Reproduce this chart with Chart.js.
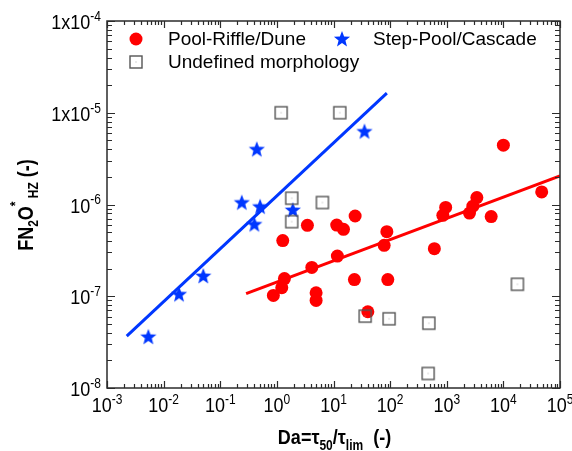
<!DOCTYPE html>
<html>
<head>
<meta charset="utf-8">
<script src="https://cdn.jsdelivr.net/npm/chart.js@4.4.0/dist/chart.umd.min.js"></script>
<style>
  html, body { margin: 0; padding: 0; background: #fff; }
</style>
</head>
<body>
<canvas id="chart" width="572" height="451"></canvas>
<script>
// Pool-Riffle/Dune (red circles)
const poolX = [1.0e4, 4.75e4, 957, 853, 3400, 2890, 2520, 6090, 604, 87.5, 78.4, 24.1, 11.4, 15.0, 11.7,
               3.46, 1.27, 4.14, 1.36, 1.22, 0.867, 4.93, 4.93, 23.4, 91, 40.4];
const poolY = [4.43e-6, 1.37e-6, 9.3e-7, 7.62e-7, 1.19e-6, 9.6e-7, 8.07e-7, 7.38e-7, 3.3e-7, 5.06e-7, 3.59e-7,
               7.49e-7, 5.97e-7, 5.36e-7, 2.74e-7, 5.93e-7, 4.04e-7, 2.06e-7, 1.56e-7, 1.24e-7, 1.02e-7,
               1.09e-7, 9.0e-8, 1.52e-7, 1.52e-7, 6.78e-8];

// Step-Pool/Cascade (blue stars)
const stepX = [5.37e-3, 0.0187, 0.0502, 0.240, 0.400, 0.505, 0.442, 1.91, 35.2];
const stepY = [3.61e-8, 1.05e-7, 1.66e-7, 1.05e-6, 6.08e-7, 9.48e-7, 4.0e-6, 8.7e-7, 6.25e-6];

// Undefined morphology (open squares)
const undefX = [1.19, 12.9, 1.83, 1.83, 6.37, 36.2, 96, 483, 469, 1.77e4];
const undefY = [1.0e-5, 1.0e-5, 1.17e-6, 6.5e-7, 1.05e-6, 6.07e-8, 5.68e-8, 5.08e-8, 1.44e-8, 1.35e-7];

// fitted lines (end points)
const stepFitX = [2.23e-3, 87.5];
const stepFitY = [3.67e-8, 1.64e-5];
const poolFitX = [0.286, 1e5];
const poolFitY = [1.07e-7, 2.05e-6];

// tick labels
const xTickExps = ['-3', '-2', '-1', '0', '1', '2', '3', '4', '5'];
const yTickBases = ['10', '10', '10', '1x10', '1x10'];
const yTickExps = ['-8', '-7', '-6', '-5', '-4'];

const RED = '#ff0000';
const BLUE = '#0037ff';
const AXIS = '#2b2b2b';

function pts(xs, ys) {
    return xs.map((x, i) => ({ x: x, y: ys[i] }));
}

function makeStar(color, R, r) {
    const s = 20;
    const c = document.createElement('canvas');
    c.width = s; c.height = s;
    const g = c.getContext('2d');
    g.fillStyle = color;
    g.beginPath();
    for (let i = 0; i < 10; i++) {
        const a = -Math.PI / 2 + i * Math.PI / 5;
        const rad = i % 2 === 0 ? R : r;
        g.lineTo(s / 2 + rad * Math.cos(a), s / 2 + 0.5 + rad * Math.sin(a));
    }
    g.closePath();
    g.fill();
    return c;
}

function makeSquare(side) {
    const s = 16;
    const c = document.createElement('canvas');
    c.width = s; c.height = s;
    const g = c.getContext('2d');
    g.strokeStyle = '#555';
    g.lineWidth = 1.4;
    g.strokeRect((s - side) / 2, (s - side) / 2, side, side);
    g.fillStyle = '#aaa';
    g.fillRect(s / 2 - 0.5, s / 2 - 0.5, 1, 1);
    return c;
}

const starImg = makeStar(BLUE, 8.5, 3.6);
const squareImg = makeSquare(12);

// rich text: parts = [{t, size, dy}]
function drawParts(ctx, parts, x, y, align, bold, sy) {
    const fam = '"Liberation Sans", Arial, sans-serif';
    let total = 0;
    parts.forEach(p => {
        ctx.font = (bold ? 'bold ' : '') + p.size + 'px ' + fam;
        p.w = ctx.measureText(p.t).width;
        total += p.w;
    });
    let cx = align === 'center' ? -total / 2 : (align === 'right' ? -total : 0);
    ctx.save();
    ctx.translate(x, y);
    ctx.scale(1, sy);
    ctx.textBaseline = 'alphabetic';
    ctx.textAlign = 'left';
    parts.forEach(p => {
        ctx.font = (bold ? 'bold ' : '') + p.size + 'px ' + fam;
        ctx.fillText(p.t, cx, p.dy || 0);
        cx += p.w;
    });
    ctx.restore();
}

const framePlugin = {
    id: 'frame',
    afterDraw(chart) {
        const ctx = chart.ctx;
        const a = chart.chartArea;
        const xs = chart.scales.x;
        const ys = chart.scales.y;
        ctx.save();
        ctx.strokeStyle = AXIS;
        ctx.lineWidth = 1.5;
        ctx.strokeRect(a.left, a.top, a.right - a.left, a.bottom - a.top);

        ctx.lineWidth = 1.2;
        ctx.beginPath();
        // x ticks, bottom and top, pointing inward
        for (let d = -3; d <= 5; d++) {
            for (let k = 1; k <= 9; k++) {
                if (d === 5 && k > 1) break;
                const px = Math.round(xs.getPixelForValue(k * Math.pow(10, d))) + 0.5;
                const len = k === 1 ? 7 : 4;
                ctx.moveTo(px, a.bottom); ctx.lineTo(px, a.bottom - len);
                ctx.moveTo(px, a.top); ctx.lineTo(px, a.top + len);
            }
        }
        // y ticks, left and right
        for (let d = -8; d <= -4; d++) {
            for (let k = 1; k <= 9; k++) {
                if (d === -4 && k > 1) break;
                const py = Math.round(ys.getPixelForValue(k * Math.pow(10, d))) + 0.5;
                const len = k === 1 ? 8 : 5;
                ctx.moveTo(a.left, py); ctx.lineTo(a.left + len, py);
                ctx.moveTo(a.right, py); ctx.lineTo(a.right - len, py);
            }
        }
        ctx.stroke();

        ctx.fillStyle = '#000';
        // x tick labels
        xTickExps.forEach((e, i) => {
            const px = xs.getPixelForValue(Math.pow(10, i - 3));
            drawParts(ctx, [{ t: '10', size: 18 }, { t: e, size: 12, dy: -7 }], px, a.bottom + 24, 'center', false, 1.15);
        });
        // y tick labels
        yTickExps.forEach((e, i) => {
            const py = ys.getPixelForValue(Math.pow(10, i - 8));
            drawParts(ctx, [{ t: yTickBases[i], size: 18 }, { t: e, size: 12, dy: -7 }], a.left - 6, py + 8, 'right', false, 1.15);
        });

        // x axis title
        drawParts(ctx, [
            { t: 'Da=\u03c4', size: 18 }, { t: '50', size: 12, dy: 5 },
            { t: '/\u03c4', size: 18 }, { t: 'lim', size: 12, dy: 5 },
            { t: '  (-)', size: 18 }
        ], (a.left + a.right) / 2 + 1, 444, 'center', true, 1.15);

        // y axis title (rotated)
        ctx.save();
        ctx.translate(33, 205);
        ctx.rotate(-Math.PI / 2);
        drawParts(ctx, [
            { t: 'FN', size: 18 }, { t: '2', size: 12, dy: 4 },
            { t: 'O', size: 18 }, { t: '*', size: 12, dy: -11 },
            { t: ' HZ', size: 12, dy: 4 }, { t: ' (-)', size: 18 }
        ], 0, 0, 'center', true, 1.2);
        ctx.restore();

        // legend
        ctx.fillStyle = RED;
        ctx.beginPath();
        ctx.arc(136, 39, 6.5, 0, Math.PI * 2);
        ctx.fill();
        ctx.drawImage(starImg, 342 - starImg.width / 2, 39 - starImg.height / 2);
        ctx.drawImage(squareImg, 136 - squareImg.width / 2, 62 - squareImg.height / 2);
        ctx.fillStyle = '#000';
        drawParts(ctx, [{ t: 'Pool-Riffle/Dune', size: 19 }], 168, 45, 'left', false, 1);
        drawParts(ctx, [{ t: 'Step-Pool/Cascade', size: 19 }], 373, 45, 'left', false, 1);
        drawParts(ctx, [{ t: 'Undefined morphology', size: 19 }], 168, 68, 'left', false, 1);
        ctx.restore();
    }
};

new Chart(document.getElementById('chart').getContext('2d'), {
    type: 'scatter',
    data: {
        datasets: [
            {
                label: 'Undefined morphology',
                data: pts(undefX, undefY),
                pointStyle: squareImg,
            },
            {
                label: 'Step-Pool/Cascade',
                data: pts(stepX, stepY),
                pointStyle: starImg,
            },
            {
                label: 'Pool-Riffle/Dune',
                data: pts(poolX, poolY),
                pointStyle: 'circle',
                pointRadius: 6.5,
                backgroundColor: RED,
                borderWidth: 0,
            },
            {
                label: 'Step-Pool fit',
                data: pts(stepFitX, stepFitY),
                showLine: true,
                borderColor: BLUE,
                borderWidth: 3,
                pointRadius: 0,
            },
            {
                label: 'Pool-Riffle fit',
                data: pts(poolFitX, poolFitY),
                showLine: true,
                borderColor: RED,
                borderWidth: 3,
                pointRadius: 0,
            }
        ],
    },
    options: {
        responsive: false,
        animation: false,
        layout: { padding: { left: 107, right: 12, top: 21, bottom: 63 } },
        plugins: {
            legend: { display: false },
            tooltip: { enabled: false },
        },
        scales: {
            x: { type: 'logarithmic', min: 1e-3, max: 1e5, display: false },
            y: { type: 'logarithmic', min: 1e-8, max: 1e-4, display: false },
        },
    },
    plugins: [framePlugin],
});
</script>
</body>
</html>
